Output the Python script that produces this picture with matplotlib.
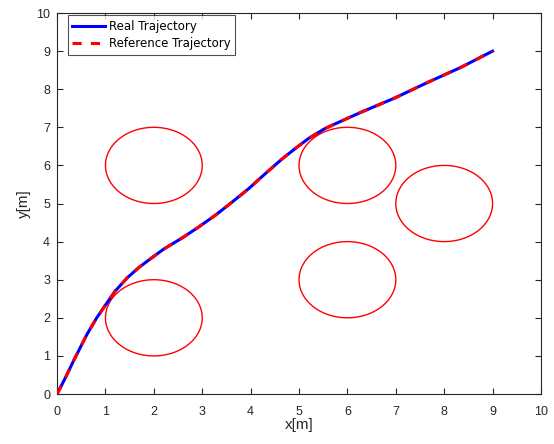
#!/usr/bin/env python3

import numpy as np
import matplotlib
matplotlib.use("Agg")
import matplotlib.pyplot as plt

plt.rcParams['font.family'] = ['Liberation Sans', 'DejaVu Sans']

# trajectory (real and reference overlap)
traj_x = [0, 0.17, 0.34, 0.48, 0.62, 0.82, 1.03, 1.2, 1.45, 1.7, 1.91, 2.2,
          2.59, 2.9, 3.28, 3.6, 3.96, 4.3, 4.65, 4.95, 5.2, 5.54, 5.85,
          6.29, 6.98, 7.66, 8.34, 9.0]
traj_y = [0, 0.42, 0.87, 1.22, 1.57, 2.0, 2.39, 2.7, 3.05, 3.33, 3.53, 3.8,
          4.1, 4.36, 4.70, 5.02, 5.39, 5.78, 6.17, 6.47, 6.71, 6.97, 7.15,
          7.4, 7.77, 8.18, 8.57, 9.0]

# obstacles: centres and radius
obs_x = [2, 2, 6, 6, 8]
obs_y = [6, 2, 6, 3, 5]
obs_r = [1, 1, 1, 1, 1]

ticks = list(range(0, 11))

fig = plt.figure(figsize=(5.54, 4.44), dpi=100)
ax = fig.add_axes([0.103, 0.1126, 0.8735, 0.8581])

theta = np.linspace(0.02, 2 * np.pi - 0.02, 200)
for cx, cy, r in zip(obs_x, obs_y, obs_r):
    ax.plot(cx + r * np.cos(theta), cy + r * np.sin(theta),
            color='#ff0000', lw=1.0, zorder=2)

ax.plot(traj_x, traj_y, color='#0000ff', lw=2.2, label='Real Trajectory',
        zorder=3, solid_joinstyle='round')
ax.plot(traj_x, traj_y, color='#ff0000', lw=2.2, ls=(0, (3, 3)),
        label='Reference Trajectory', zorder=4)

ax.set_xlim(0, 10)
ax.set_ylim(0, 10)
ax.set_xticks(ticks)
ax.set_yticks(ticks)
ax.tick_params(direction='in', length=4, top=True, right=True,
               labelsize=9, colors='#262626')
ax.tick_params(axis='x', pad=8.5)
ax.tick_params(axis='y', pad=5)
for s in ax.spines.values():
    s.set_color('#262626')
    s.set_linewidth(0.8)

ax.set_xlabel('x[m]', fontsize=11, color='#262626', labelpad=0)
ax.set_ylabel('y[m]', fontsize=11, color='#262626', labelpad=4)

leg = ax.legend(loc='upper left', bbox_to_anchor=(0.022, 0.995),
                frameon=True, fancybox=False, edgecolor='#262626',
                borderaxespad=0, handlelength=2.8, handletextpad=0.3,
                borderpad=0.4, labelspacing=0.4,
                prop={'family': 'DejaVu Sans', 'size': 8.5})
leg.get_frame().set_linewidth(0.8)

fig.savefig('out.png', dpi=100)
